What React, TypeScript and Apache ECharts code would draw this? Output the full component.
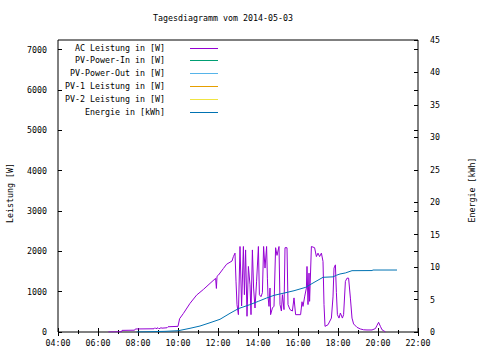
import React, { useEffect, useRef } from "react";
import * as echarts from "echarts";

const titleText = "Tagesdiagramm vom 2014-05-03";
const leftAxisName = "Leistung [W]";
const rightAxisName = "Energie [kWh]";
const legendNames = [
  "AC Leistung in [W]",
  "PV-Power-In in [W]",
  "PV-Power-Out in [W]",
  "PV-1 Leistung in [W]",
  "PV-2 Leistung in [W]",
  "Energie in [kWh]",
];
const legendColors = ["#9400d3", "#009e73", "#56b4e9", "#e69f00", "#f0e442", "#0072b2"];

// [hour of day, Watt]
const acPower: [number, number][] = [
  [6.52, 0], [7.17, 5], [7.2, 40], [7.83, 45], [7.87, 75], [8.8, 80], [8.85, 105], [8.9, 80],
  [9.0, 105], [9.05, 80], [9.15, 105], [9.2, 95], [9.45, 105], [9.5, 130], [10.0, 140],
  [10.08, 330], [10.27, 460], [10.6, 710], [10.93, 915], [11.27, 1055], [11.6, 1205],
  [11.88, 1330], [11.92, 1080], [11.95, 1380], [12.02, 1410], [12.27, 1575], [12.43, 1680],
  [12.6, 1730], [12.7, 1760], [12.77, 1870], [12.85, 1955], [12.9, 1260], [12.95, 675],
  [13.02, 430], [13.1, 2120], [13.18, 645], [13.27, 2120], [13.32, 925], [13.38, 2035],
  [13.45, 390], [13.52, 1625], [13.6, 1170], [13.65, 430], [13.72, 2035], [13.78, 1090],
  [13.85, 595], [13.93, 1260], [14.02, 2120], [14.07, 925], [14.15, 875], [14.22, 975],
  [14.28, 2120], [14.35, 1585], [14.43, 2120], [14.47, 1335], [14.5, 885], [14.55, 635],
  [14.6, 1090], [14.63, 430], [14.72, 595], [14.8, 640], [14.88, 2090], [14.95, 1900],
  [15.05, 2120], [15.1, 680], [15.17, 520], [15.22, 925], [15.3, 555], [15.35, 2090],
  [15.45, 2090], [15.5, 680], [15.6, 555], [15.72, 520], [15.8, 845], [15.88, 430],
  [16.13, 430], [16.2, 750], [16.25, 635], [16.33, 870], [16.42, 1090], [16.45, 1625],
  [16.5, 680], [16.55, 1460], [16.58, 760], [16.67, 2120], [16.83, 2090], [16.92, 1870],
  [17.0, 1955], [17.08, 1870], [17.17, 1955], [17.25, 1750], [17.3, 680], [17.35, 140],
  [17.5, 180], [17.67, 345], [17.75, 870], [17.8, 1585], [17.87, 1665], [17.92, 975],
  [17.97, 430], [18.05, 345], [18.12, 470], [18.22, 345], [18.28, 430], [18.37, 1255],
  [18.45, 1335], [18.53, 1335], [18.62, 840], [18.7, 345], [18.78, 200], [18.95, 115],
  [19.12, 75], [19.28, 55], [19.45, 50], [19.7, 50], [19.87, 85], [19.95, 165],
  [20.03, 240], [20.12, 140], [20.2, 55], [20.28, 35], [20.37, 0],
];

// [hour of day, kWh]
const energy: [number, number][] = [
  [7.93, 0], [9.35, 0.1], [10.02, 0.2], [10.6, 0.57], [11.1, 0.92], [11.6, 1.43],
  [12.1, 1.96], [12.6, 2.88], [13.02, 3.6], [13.58, 4.2], [14.02, 4.73], [14.43, 5.24],
  [14.8, 5.65], [15.3, 6.0], [15.8, 6.36], [16.38, 6.88], [16.75, 7.55], [17.25, 8.43],
  [17.75, 8.5], [17.92, 8.74], [18.1, 8.94], [18.37, 9.1], [18.7, 9.45], [19.7, 9.47],
  [19.75, 9.55], [20.95, 9.55],
];

const xMin = 4;
const xMax = 22;
const xStep = 2;
const wattMax = 7240;
const wattStep = 1000;
const kwhMax = 45;
const kwhStep = 5;

const FONT = "'DejaVu Sans Mono', 'Liberation Mono', monospace";
const FS = 8.3;

export default function App() {
  const ref = useRef<HTMLDivElement>(null);
  useEffect(() => {
    if (!ref.current) return;
    const chart = echarts.init(ref.current, null, { renderer: "svg" });
    const fmtHour = (v: number) => String(v).padStart(2, "0") + ":00";
    const fmtPlain = (v: number) => String(v);
    const labelStyle = { color: "#000", fontFamily: FONT, fontSize: FS };
    const tick = { show: true, inside: true, length: 4, lineStyle: { color: "#000" } };
    const legendGraphics: any[] = [];
    legendNames.forEach((name, i) => {
      const y = 47.5 + i * 12.9;
      legendGraphics.push({
        type: "text",
        x: 165,
        y,
        style: { text: name, fill: "#000", font: `${FS}px ${FONT}`, textAlign: "right", textVerticalAlign: "middle" },
      });
      legendGraphics.push({
        type: "line",
        shape: { x1: 190, y1: Math.round(y) + 0.5, x2: 218, y2: Math.round(y) + 0.5 },
        style: { stroke: legendColors[i], lineWidth: 1 },
      });
    });
    const seriesData: any[] = [acPower, [], [], [], [], energy];
    chart.setOption({
      animation: false,
      backgroundColor: "#fff",
      grid: { left: 58, right: 62, top: 40, bottom: 28, show: true, borderColor: "#000", borderWidth: 1, backgroundColor: "transparent" },
      xAxis: [
        {
          type: "value", position: "bottom", min: xMin, max: xMax, interval: xStep,
          axisLine: { show: false }, splitLine: { show: false },
          axisTick: tick,
          minorTick: { show: true, splitNumber: 2, length: 2, lineStyle: { color: "#000" } },
          axisLabel: { ...labelStyle, margin: 7, formatter: fmtHour },
        },
        {
          type: "value", position: "top", min: xMin, max: xMax, interval: xStep,
          axisLine: { show: false }, splitLine: { show: false },
          axisTick: tick,
          minorTick: { show: true, splitNumber: 2, length: 2, lineStyle: { color: "#000" } },
          axisLabel: { show: false },
        },
      ],
      yAxis: [
        {
          type: "value", position: "left", min: 0, max: wattMax, interval: wattStep,
          axisLine: { show: false }, splitLine: { show: false },
          axisTick: tick,
          axisLabel: { ...labelStyle, margin: 11, showMaxLabel: false, formatter: fmtPlain },
        },
        {
          type: "value", position: "right", min: 0, max: kwhMax, interval: kwhStep,
          axisLine: { show: false }, splitLine: { show: false },
          axisTick: tick,
          axisLabel: { ...labelStyle, margin: 12, formatter: fmtPlain },
        },
        {
          type: "value", position: "right", min: 0, max: wattMax, interval: wattStep,
          axisLine: { show: false }, splitLine: { show: false },
          axisTick: tick,
          axisLabel: { show: false },
        },
      ],
      series: legendNames.map((name, i) => ({
        name,
        type: "line",
        xAxisIndex: 0,
        yAxisIndex: i === 5 ? 1 : 0,
        data: seriesData[i],
        showSymbol: false,
        symbol: "none",
        lineStyle: { color: legendColors[i], width: 1 },
        itemStyle: { color: legendColors[i] },
      })),
      graphic: [
        {
          type: "text", x: 223, y: 18,
          style: { text: titleText, fill: "#000", font: `${FS}px ${FONT}`, textAlign: "center", textVerticalAlign: "middle" },
        },
        {
          type: "text", x: 10, y: 193, rotation: Math.PI / 2,
          style: { text: leftAxisName, fill: "#000", font: `${FS}px ${FONT}`, textAlign: "center", textVerticalAlign: "middle" },
        },
        {
          type: "text", x: 472, y: 190, rotation: Math.PI / 2,
          style: { text: rightAxisName, fill: "#000", font: `${FS}px ${FONT}`, textAlign: "center", textVerticalAlign: "middle" },
        },
        ...legendGraphics,
      ],
    });
    return () => chart.dispose();
  }, []);
  return <div ref={ref} style={{ width: 480, height: 360, position: "absolute", left: 0, top: 0 }} />;
}
